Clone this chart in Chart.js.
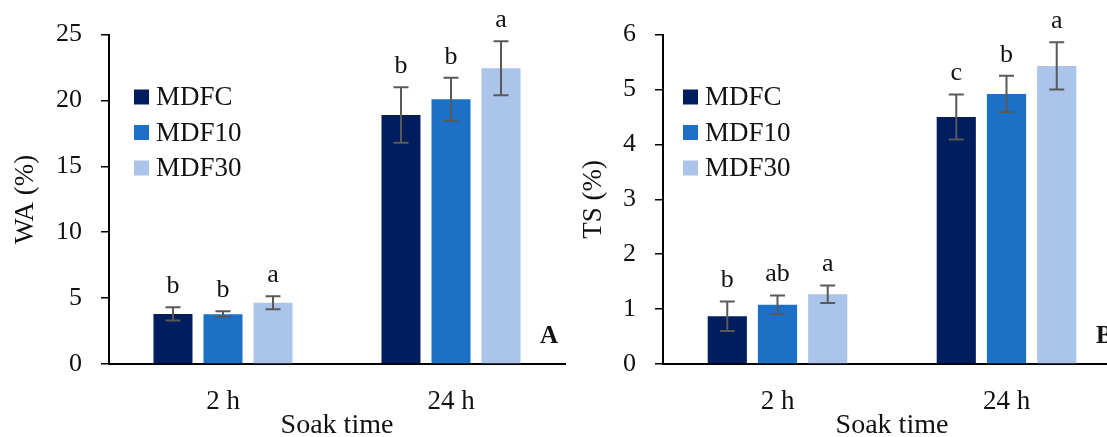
<!DOCTYPE html>
<html>
<head>
<meta charset="utf-8">
<script src="https://cdn.jsdelivr.net/npm/chart.js@4"></script>
<style>
  html, body { margin: 0; padding: 0; background: #fff; overflow: hidden; width: 1107px; height: 437px; }
  canvas { position: absolute; top: 0; }
  #wa-chart { left: 0; }
  #ts-chart { left: 560px; }
</style>
</head>
<body>
<canvas id="wa-chart" width="580" height="445"></canvas>
<canvas id="ts-chart" width="580" height="445"></canvas>
<script>
const categories = ["2 h", "24 h"];
const seriesNames = ["MDFC", "MDF10", "MDF30"];
const seriesColors = ["#001d5e", "#1c71c6", "#aac5e9"];

// water absorption (%)
const waMdfc = [3.8, 18.9];
const waMdf10 = [3.78, 20.1];
const waMdf30 = [4.65, 22.45];
const waErrMdfc = [0.5, 2.1];
const waErrMdf10 = [0.22, 1.63];
const waErrMdf30 = [0.5, 2.05];
const waLetters = [["b", "b"], ["b", "b"], ["a", "a"]];

// thickness swelling (%)
const tsMdfc = [0.87, 4.5];
const tsMdf10 = [1.08, 4.92];
const tsMdf30 = [1.27, 5.43];
const tsErrMdfc = [0.27, 0.41];
const tsErrMdf10 = [0.17, 0.33];
const tsErrMdf30 = [0.16, 0.43];
const tsLetters = [["b", "c"], ["ab", "b"], ["a", "a"]];

const FONT = "'Liberation Serif', 'Times New Roman', serif";
const TXT = "#111";

// error bars + significance letters + legend + panel letter
const extras = {
  id: "extras",
  afterDatasetsDraw(chart, args, opts) {
    const ctx = chart.ctx;
    const y = chart.scales.y;
    ctx.save();
    chart.data.datasets.forEach((ds, i) => {
      const meta = chart.getDatasetMeta(i);
      meta.data.forEach((bar, j) => {
        const v = ds.data[j];
        const e = opts.errors[i][j];
        const top = y.getPixelForValue(v + e);
        const bot = y.getPixelForValue(v - e);
        ctx.strokeStyle = "#595959";
        ctx.lineWidth = 2;
        ctx.beginPath();
        ctx.moveTo(bar.x, top);
        ctx.lineTo(bar.x, bot);
        ctx.moveTo(bar.x - 7.5, top);
        ctx.lineTo(bar.x + 7.5, top);
        ctx.moveTo(bar.x - 7.5, bot);
        ctx.lineTo(bar.x + 7.5, bot);
        ctx.stroke();
        ctx.fillStyle = TXT;
        ctx.font = "26px " + FONT;
        ctx.textAlign = "center";
        ctx.textBaseline = "alphabetic";
        ctx.fillText(opts.letters[i][j], bar.x, top - 14);
      });
    });
    // legend
    ctx.font = "27px " + FONT;
    ctx.textAlign = "left";
    ctx.textBaseline = "middle";
    chart.data.datasets.forEach((ds, i) => {
      const cy = opts.legendY + i * 35.5;
      ctx.fillStyle = ds.backgroundColor;
      ctx.fillRect(opts.legendX, cy - 7.5, 15, 15);
      ctx.fillStyle = TXT;
      ctx.fillText(ds.label, opts.legendX + 22, cy + 1);
    });
    // panel letter
    ctx.font = "bold 25px " + FONT;
    ctx.fillText(opts.panel, opts.panelX, 337);
    ctx.restore();
  }
};

function makeChart(id, values, errors, letters, yMax, yTitle, cfg) {
  new Chart(document.getElementById(id), {
    type: "bar",
    data: {
      labels: categories,
      datasets: seriesNames.map((name, i) => ({
        label: name,
        data: values[i],
        backgroundColor: seriesColors[i],
        borderWidth: 0,
        categoryPercentage: 0.658,
        barPercentage: 0.78,
      })),
    },
    options: {
      responsive: false,
      animation: false,
      layout: { padding: { left: 0, top: cfg.top, right: cfg.right, bottom: 0 } },
      plugins: {
        legend: { display: false },
        tooltip: { enabled: false },
        extras: {
          errors, letters,
          legendX: cfg.legendX, legendY: 97,
          panel: cfg.panel, panelX: cfg.panelX,
        },
      },
      scales: {
        x: {
          grid: { display: false, drawTicks: false },
          border: { color: "#000", width: 2 },
          ticks: { color: TXT, font: { family: FONT, size: 27 }, padding: 22 },
          title: {
            display: true, text: "Soak time", color: TXT,
            font: { family: FONT, size: 28 }, padding: { top: 0, bottom: 3 },
          },
          afterFit: (s) => { s.height = 81; },
        },
        y: {
          min: 0, max: yMax,
          ticks: { stepSize: yMax === 25 ? 5 : 1, color: TXT, font: { family: FONT, size: 26 }, padding: 19 },
          grid: { drawOnChartArea: false, tickLength: 8, color: "#000", lineWidth: 1.5 },
          border: { color: "#000", width: 2 },
          title: {
            display: true, text: yTitle, color: TXT,
            font: { family: FONT, size: 27 }, padding: { top: cfg.titlePad, bottom: 0 },
          },
          afterFit: (s) => { s.width = cfg.yWidth; },
        },
      },
    },
    plugins: [extras],
  });
}

makeChart("wa-chart",
  [waMdfc, waMdf10, waMdf30],
  [waErrMdfc, waErrMdf10, waErrMdf30],
  waLetters, 25, "WA (%)",
  { top: 33, right: 15, yWidth: 109, titlePad: 10, legendX: 134, panel: "A", panelX: 540 });

makeChart("ts-chart",
  [tsMdfc, tsMdf10, tsMdf30],
  [tsErrMdfc, tsErrMdf10, tsErrMdf30],
  tsLetters, 6, "TS (%)",
  { top: 28.5, right: 19, yWidth: 103, titlePad: 18, legendX: 123, panel: "B", panelX: 536 });
</script>
</body>
</html>
